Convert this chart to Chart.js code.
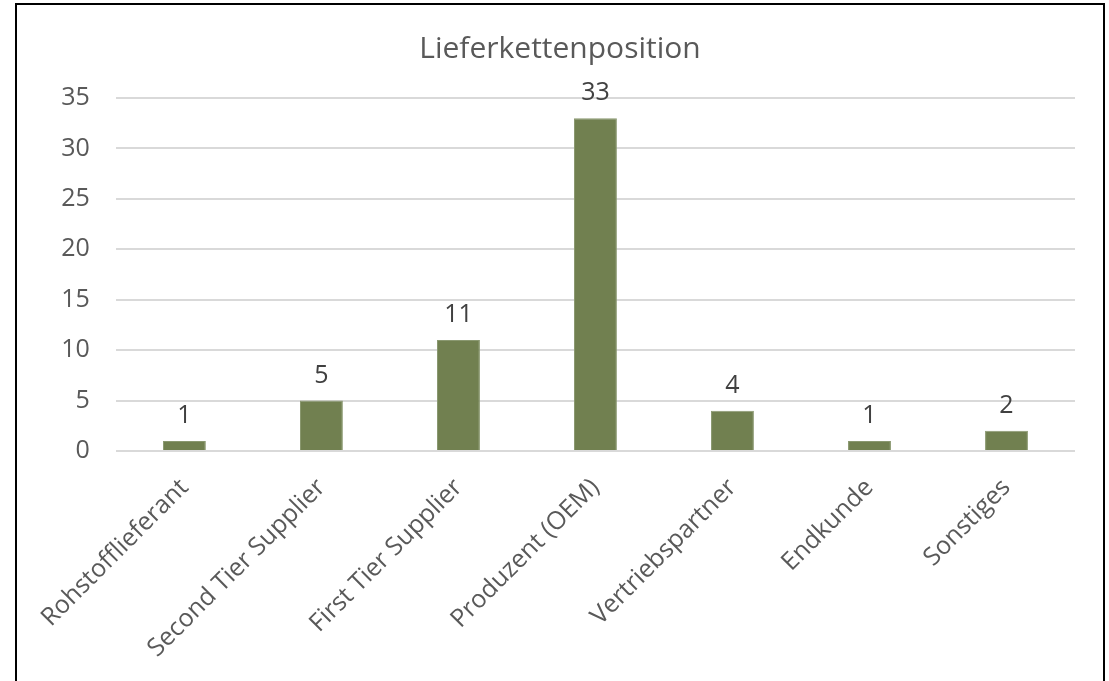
<!DOCTYPE html>
<html>
<head>
<meta charset="utf-8">
<script src="https://cdn.jsdelivr.net/npm/chart.js@4.4.1/dist/chart.umd.min.js"></script>
<style>
  html, body { margin: 0; padding: 0; background: #fff; overflow: hidden; }
  #frame {
    position: absolute; left: 15px; top: 3px;
    width: 1086px; height: 700px;
    border: 2px solid #000; border-bottom: none;
  }
  #chart { display: block; }
</style>
</head>
<body>
<div id="frame"><canvas id="chart" width="1086" height="676"></canvas></div>
<script>
const categories = ['Rohstofflieferant', 'Second Tier Supplier', 'First Tier Supplier', 'Produzent (OEM)', 'Vertriebspartner', 'Endkunde', 'Sonstiges'];
const counts = [1, 5, 11, 33, 4, 1, 2];
const yMax = 35;
const yStep = 5;

const fontFamily = "'Open Sans', 'DejaVu Sans', sans-serif";

// draws the value above each bar (like excel data labels)
const valueLabels = {
    id: 'valueLabels',
    afterDatasetsDraw(chart) {
        const ctx = chart.ctx;
        const meta = chart.getDatasetMeta(0);
        ctx.save();
        ctx.font = '25px ' + fontFamily;
        ctx.fillStyle = '#404040';
        ctx.textAlign = 'center';
        ctx.textBaseline = 'alphabetic';
        meta.data.forEach((bar, i) => {
            ctx.fillText(String(chart.data.datasets[0].data[i]), bar.x, bar.y - 18);
        });
        ctx.restore();
    }
};

new Chart(document.getElementById('chart'), {
    type: 'bar',
    data: {
        labels: categories,
        datasets: [{
            label: 'Lieferkettenposition',
            data: counts,
            backgroundColor: '#718050',
            borderColor: '#8a9870',
            borderWidth: 1,
            categoryPercentage: 1,
            barPercentage: 0.313,
        }],
    },
    options: {
        responsive: false,
        animation: false,
        layout: {
            padding: { left: 0, right: 0, top: 10, bottom: 0 }
        },
        plugins: {
            legend: { display: false },
            tooltip: { enabled: false },
            title: {
                display: true,
                text: 'Lieferkettenposition',
                color: '#595959',
                font: { family: fontFamily, size: 30, weight: 'normal' },
                padding: { top: 16, bottom: 31 },
            },
        },
        scales: {
            x: {
                grid: { display: false, drawTicks: false },
                border: { display: false },
                ticks: {
                    color: '#595959',
                    font: { family: fontFamily, size: 25 },
                    minRotation: 45,
                    maxRotation: 45,
                    padding: 22,
                    autoSkip: false,
                },
                afterFit(scale) { scale.height = 230; },
            },
            y: {
                min: 0,
                max: yMax,
                grid: { color: '#d9d9d9', lineWidth: 2, drawTicks: false },
                border: { display: false },
                ticks: {
                    stepSize: yStep,
                    color: '#595959',
                    font: { family: fontFamily, size: 25 },
                    padding: 26,
                },
                afterFit(scale) { scale.width = 96; },
            },
            // empty right axis, only keeps space so the title stays centred on the whole frame
            yRight: {
                position: 'right',
                grid: { display: false, drawTicks: false },
                border: { display: false },
                ticks: { display: false },
                afterFit(scale) { scale.width = 28; },
            },
        },
    },
    plugins: [valueLabels],
});
</script>
</body>
</html>
